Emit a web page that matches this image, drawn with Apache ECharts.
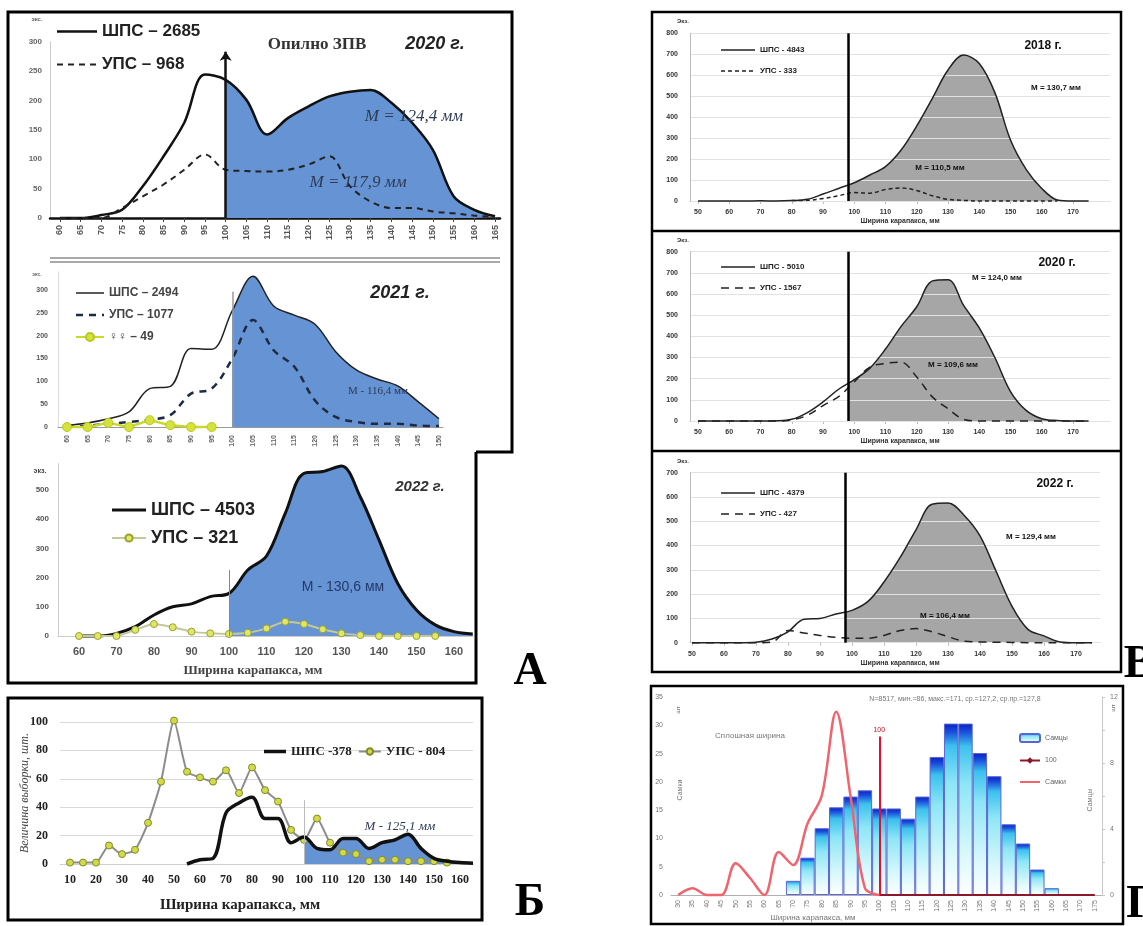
<!DOCTYPE html>
<html><head><meta charset="utf-8">
<script src="https://cdn.jsdelivr.net/npm/echarts@6/dist/echarts.min.js"></script>
<style>html,body{margin:0;padding:0;background:#fff}#c{width:1143px;height:926px}</style>
</head><body><div id="c"></div>
<script>
// ---------------- DATA ----------------
// Panel A, 2020
const a20X = [60,65,70,75,80,85,90,95,100,105,110,115,120,125,130,135,140,145,150,155,160,165];
const a20Shps = [0,0,5,14,54,105,162,244,235,201,142,170,190,207,215,218,196,162,116,37,14,3];
const a20Ups = [0,0,0,17,37,57,82,108,82,80,79,82,91,105,54,28,17,17,11,8,4,2];
// Panel A, 2021
const a21X = [60,65,70,75,80,85,90,95,100,105,110,115,120,125,130,135,140,145,150];
const a21Shps = [4,9,18,33,84,89,172,170,255,330,265,245,225,165,125,105,90,55,18];
const a21Ups = [0,3,7,11,16,26,73,84,150,234,168,132,58,22,11,7,7,3,2];
const a21FfX = [60,65,70,75,80,85,90,95];
const a21Ff = [0,0,9,0,15,4,0,0];
// Panel A, 2022
const a22X = [60,65,70,75,80,85,90,95,100,105,110,115,120,125,130,135,140,145,150,155,160,165];
const a22Shps = [0,0,9,32,72,100,110,135,146,226,274,420,557,563,582,477,329,180,89,38,15,7];
const a22UpsX = [60,65,70,75,80,85,90,95,100,105,110,115,120,125,130,135,140,145,150,155];
const a22Ups = [0,0,0,21,41,30,15,9,7,11,26,49,41,23,9,3,0,0,0,0];
const a22Ticks = [60,70,80,90,100,110,120,130,140,150,160];
// Panel Б
const bUpsX = [10,15,20,25,30,35,40,45,50,55,60,65,70,75,80,85,90,95,100,105,110,115,120,125,130,135,140,145,150,155];
const bUps = [1,1,1,13,7,10,29,58,101,65,61,58,66,50,68,52,44,24,17,32,15,8,7,2,3,3,2,2,2,1];
const bShpsX = [55,60,65,70,75,80,85,90,95,100,105,110,115,120,125,130,135,140,145,150,155,160,165];
const bShps = [0,3,4,36,43,47,32,32,15,19,11,10,18,18,11,15,17,21,11,4,2,1,0.5];
const bTicks = [10,20,30,40,50,60,70,80,90,100,110,120,130,140,150,160];
// Panel В
const vX = [50,55,60,65,70,75,80,85,90,95,100,105,110,115,120,125,130,135,140,145,150,155,160,165,170,175];
const vTicks = [50,60,70,80,90,100,110,120,130,140,150,160,170];
const v18Shps = [0,0,0,0,1,0,2,8,33,60,87,124,164,243,358,490,625,696,656,517,291,151,60,5,0,0];
const v18UpsX = [80,85,90,95,100,105,110,115,120,125,130,135,140,145,150,155,160,165];
const v18Ups = [2,3,12,25,40,37,55,62,50,25,8,3,0,0,0,0,0,0];
const v20Shps = [0,0,0,0,0,1,8,40,90,150,195,250,340,447,540,662,668,546,440,300,139,50,11,2,0,0];
const v20Ups = [0,0,0,0,0,0,5,27,73,115,185,255,272,278,208,114,58,8,0,0,0,0,0,0,0,0];
const v22Shps = [0,0,0,0,2,15,45,97,100,118,133,170,250,350,465,570,575,525,440,295,150,55,28,3,0,0];
const v22Ups = [0,0,0,0,0,3,50,40,30,22,18,18,30,50,58,45,25,6,3,2,1,0,0,0,0,0];
// Panel Г
const gCats = ['30','35','40','45','50','55','60','65','70','75','80','85','90','95','100','105','110','115','120','125','130','135','140','145','150','155','160','165','170','175'];
const gMales = [null,null,null,null,null,null,null,null,2.5,6.6,11.8,15.5,17.4,18.5,15.3,15.3,13.5,17.4,24.4,30.3,30.3,25.1,21,12.5,9.1,4.5,1.2,null,null,null];
const gFemales = [0,1.2,0,0,5.6,3,0,7.6,5.3,12.6,17.6,32.4,17.4,1.2,0,null,null,null,null,null,null,null,null,null,null,null,null,null,null,null];
const g100 = [null,null,null,null,null,null,null,null,null,null,null,null,null,null,0,0,0,0,0,0,0,0,0,0,0,0,0,0,0,0];

// ---------------- HELPERS ----------------
const FS = '"Liberation Sans", Arial, sans-serif';
const FSERIF = '"Liberation Serif", "Times New Roman", serif';
const BLUE = '#6593d3';
const GRAYFILL = '#a6a6a6';
const S = 0.35;
const pairs = (xs, ys) => xs.map((x, i) => [x, ys[i]]);
const grid = [], xAxis = [], yAxis = [], series = [], legend = [], visualMap = [], graphic = [];

// legend icons: a line of thickness t centred in a w x h box (solid or dashed)
function solidIcon(w, h, t) {
  return 'path://M0,0M' + w + ',' + h + 'M0,' + ((h - t) / 2) + 'H' + w + 'V' + ((h + t) / 2) + 'H0Z';
}
function dashIcon(w, h, t, d, g) {
  let p = 'path://M0,0M' + w + ',' + h;
  for (let x = 0; x < w; x += d + g) {
    const e = Math.min(x + d, w);
    p += 'M' + x + ',' + ((h - t) / 2) + 'H' + e + 'V' + ((h + t) / 2) + 'H' + x + 'Z';
  }
  return p;
}
function txt(text, x, y, font, fill, extra) {
  graphic.push(Object.assign({type: 'text', x: x, y: y, z: 100, silent: true,
    style: {text: text, font: font, fill: fill || '#222', align: 'center', verticalAlign: 'middle'}}, extra || {}));
}
function gline(x1, y1, x2, y2, w, c) {
  graphic.push({type: 'line', z: 100, silent: true, shape: {x1, y1, x2, y2}, style: {stroke: c || '#000', lineWidth: w}});
}
function addSeries(s) { series.push(s); return series.length - 1; }
function fillArea(gi, xs, ys, cut, color, smooth) {
  const idx = addSeries({type: 'line', xAxisIndex: gi, yAxisIndex: gi, data: pairs(xs, ys), smooth: smooth,
    symbol: 'none', lineStyle: {width: 0}, areaStyle: {opacity: 1}, z: 1, silent: true, clip: false});
  visualMap.push({type: 'piecewise', show: false, seriesIndex: idx, dimension: 0,
    pieces: [{gte: -1000, lt: cut, color: 'rgba(255,255,255,0)'}, {gte: cut, lte: 1000, color: color}]});
}
function vmark(x, top, color, width, arrow) {
  return {silent: true, symbol: ['none', arrow ? 'arrow' : 'none'], symbolSize: 9, label: {show: false},
    lineStyle: {color: color, width: width, type: 'solid'}, data: [[{coord: [x, 0]}, {coord: [x, top]}]]};
}

// ================= PANEL A 2020 (grid 0) =================
grid.push({left: 50, top: 41.7, width: 450, height: 176.3});
xAxis.push({gridIndex: 0, type: 'value', min: 57.6, max: 166.2,
  axisLine: {show: true, onZero: false, lineStyle: {color: '#111', width: 2.5}},
  axisTick: {show: true, customValues: a20X, length: 4, lineStyle: {color: '#444'}}, splitLine: {show: false},
  axisLabel: {customValues: a20X, rotate: 90, fontSize: 9, fontWeight: 'bold', color: '#555', margin: 7}});
yAxis.push({gridIndex: 0, type: 'value', min: 0, max: 300, interval: 50,
  axisLine: {show: true, lineStyle: {color: '#ccc'}}, axisTick: {show: false}, splitLine: {show: false},
  axisLabel: {fontSize: 8, fontWeight: 'bold', color: '#666', margin: 8}});
fillArea(0, a20X, a20Shps, 100, BLUE, S);
addSeries({type: 'line', name: 'ШПС – 2685', xAxisIndex: 0, yAxisIndex: 0, data: pairs(a20X, a20Shps), smooth: S,
  symbol: 'none', lineStyle: {color: '#111', width: 2.5}, itemStyle: {color: '#111'}, z: 3, clip: false,
  markLine: vmark(100, 283, '#111', 2.5, true)});
addSeries({type: 'line', name: 'УПС – 968', xAxisIndex: 0, yAxisIndex: 0, data: pairs(a20X, a20Ups), smooth: S,
  symbol: 'none', lineStyle: {color: '#222', width: 2, type: [6, 5]}, itemStyle: {color: '#222'}, z: 3, clip: false});
legend.push({left: 52, top: 18, orient: 'vertical', itemWidth: 40, itemHeight: 10, itemGap: 16,
  data: [{name: 'ШПС – 2685', icon: solidIcon(40, 10, 2.5)}, {name: 'УПС – 968', icon: dashIcon(40, 10, 2, 6, 5)}],
  textStyle: {fontSize: 17, fontWeight: 'bold', color: '#222', fontFamily: FS}});
txt('экс.', 37, 19, 'bold 6px ' + FS, '#666');
txt('Опилно ЗПВ', 317, 45, 'bold 17px ' + FSERIF, '#333');
txt('2020 г.', 435, 44, 'italic bold 18px ' + FS, '#222');
txt('M = 124,4 мм', 414, 117, 'italic 17px ' + FSERIF, '#2d3b55');
txt('M = 117,9 мм', 358, 183, 'italic 17px ' + FSERIF, '#2d3b55');
gline(50, 258, 500, 258, 1, '#555');
gline(50, 262, 500, 262, 1, '#555');

// ================= PANEL A 2021 (grid 1) =================
grid.push({left: 58, top: 271.7, width: 385, height: 155.3});
xAxis.push({gridIndex: 1, type: 'value', min: 57.82, max: 150.97,
  axisLine: {show: true, onZero: false, lineStyle: {color: '#999', width: 1}},
  axisTick: {show: false}, splitLine: {show: false},
  axisLabel: {customValues: a21X, rotate: 90, fontSize: 7, fontWeight: 'bold', color: '#666', margin: 8}});
yAxis.push({gridIndex: 1, type: 'value', min: 0, max: 340,
  axisLine: {show: true, lineStyle: {color: '#ddd'}}, axisTick: {show: false}, splitLine: {show: false},
  axisLabel: {customValues: [0, 50, 100, 150, 200, 250, 300], fontSize: 7, fontWeight: 'bold', color: '#555', margin: 10}});
fillArea(1, a21X, a21Shps, 100, BLUE, S);
addSeries({type: 'line', name: 'ШПС – 2494', xAxisIndex: 1, yAxisIndex: 1, data: pairs(a21X, a21Shps), smooth: S,
  symbol: 'none', lineStyle: {color: '#222', width: 1.5}, itemStyle: {color: '#222'}, z: 3, clip: false,
  markLine: vmark(100, 296, '#999', 1.5, false)});
addSeries({type: 'line', name: 'УПС – 1077', xAxisIndex: 1, yAxisIndex: 1, data: pairs(a21X, a21Ups), smooth: S,
  symbol: 'none', lineStyle: {color: '#1e2a44', width: 2.5, type: [7, 6]}, itemStyle: {color: '#1e2a44'}, z: 3, clip: false});
addSeries({type: 'line', name: '♀♀ – 49', xAxisIndex: 1, yAxisIndex: 1, data: pairs(a21FfX, a21Ff), smooth: false,
  symbol: 'circle', symbolSize: 9, lineStyle: {color: '#c9d92a', width: 2.5},
  itemStyle: {color: '#d6e23c', borderColor: '#b8c820', borderWidth: 1}, z: 4, clip: false});
legend.push({left: 70, top: 282, orient: 'vertical', itemWidth: 28, itemHeight: 10, itemGap: 10,
  data: [{name: 'ШПС – 2494', icon: solidIcon(28, 10, 1.5)}, {name: 'УПС – 1077', icon: dashIcon(28, 10, 2.5, 7, 6)}, '♀♀ – 49'],
  textStyle: {fontSize: 12, fontWeight: 'bold', color: '#444', fontFamily: FS}});
txt('экс.', 37, 275, 'bold 5px ' + FS, '#666');
txt('2021 г.', 400, 293, 'italic bold 18px ' + FS, '#222');
txt('М - 116,4 мм', 378, 391, '11px ' + FSERIF, '#2d3b55');

// ================= PANEL A 2022 (grid 2) =================
grid.push({left: 58, top: 463.7, width: 415, height: 172.3});
xAxis.push({gridIndex: 2, type: 'value', min: 54.4, max: 165.07,
  axisLine: {show: true, onZero: false, lineStyle: {color: '#ccc', width: 1}},
  axisTick: {show: false}, splitLine: {show: false},
  axisLabel: {customValues: a22Ticks, fontSize: 11, fontWeight: 'bold', color: '#555', margin: 10}});
yAxis.push({gridIndex: 2, type: 'value', min: 0, max: 590,
  axisLine: {show: true, lineStyle: {color: '#ccc'}}, axisTick: {show: false}, splitLine: {show: false},
  axisLabel: {customValues: [0, 100, 200, 300, 400, 500], fontSize: 8, fontWeight: 'bold', color: '#555', margin: 9}});
fillArea(2, a22X, a22Shps, 100, BLUE, S);
addSeries({type: 'line', name: 'ШПС – 4503', xAxisIndex: 2, yAxisIndex: 2, data: pairs(a22X, a22Shps), smooth: S,
  symbol: 'none', lineStyle: {color: '#111', width: 3}, itemStyle: {color: '#111'}, z: 3, clip: false,
  markLine: vmark(100, 226, '#888', 1, false)});
addSeries({type: 'line', name: 'УПС – 321', xAxisIndex: 2, yAxisIndex: 2, data: pairs(a22UpsX, a22Ups), smooth: 0.2,
  symbol: 'circle', symbolSize: 7, lineStyle: {color: '#c4c79a', width: 2},
  itemStyle: {color: '#dfe66a', borderColor: '#9aa22a', borderWidth: 1}, z: 4, clip: false});
legend.push({left: 106, top: 496, orient: 'vertical', itemWidth: 34, itemHeight: 9, itemGap: 10,
  data: [{name: 'ШПС – 4503', icon: solidIcon(34, 9, 3)}, 'УПС – 321'],
  textStyle: {fontSize: 18, fontWeight: 'bold', color: '#222', fontFamily: FS}});
txt('экз.', 40, 471, 'bold 7px ' + FS, '#444');
txt('2022 г.', 420, 487, 'italic bold 15px ' + FS, '#333');
txt('М - 130,6 мм', 343, 587, '14px ' + FS, '#243a6a');
txt('Ширина карапакса, мм', 253, 671, 'bold 13px ' + FSERIF, '#444');
txt('А', 530, 672, 'bold 46px ' + FSERIF, '#000');

// ================= PANEL Б (grid 3) =================
grid.push({left: 60, top: 722, width: 413, height: 142});
xAxis.push({gridIndex: 3, type: 'value', min: 6.15, max: 165,
  axisLine: {show: true, onZero: false, lineStyle: {color: '#d0d0d0', width: 1}},
  axisTick: {show: false}, splitLine: {show: false},
  axisLabel: {customValues: bTicks, fontSize: 12, fontWeight: 'bold', color: '#222', fontFamily: FSERIF, margin: 10}});
yAxis.push({gridIndex: 3, type: 'value', min: 0, max: 100, interval: 20,
  axisLine: {show: false}, axisTick: {show: false}, splitLine: {show: true, lineStyle: {color: '#d9d9d9'}},
  axisLabel: {fontSize: 12, fontWeight: 'bold', color: '#222', fontFamily: FSERIF, margin: 12}});
fillArea(3, bShpsX, bShps, 100, BLUE, S);
addSeries({type: 'line', name: 'УПС - 804', xAxisIndex: 3, yAxisIndex: 3, data: pairs(bUpsX, bUps), smooth: 0.2,
  symbol: 'circle', symbolSize: 7, lineStyle: {color: '#8c8c8c', width: 2},
  itemStyle: {color: '#d2da48', borderColor: '#7f8a2a', borderWidth: 1}, z: 3, clip: false});
addSeries({type: 'line', name: 'ШПС -378', xAxisIndex: 3, yAxisIndex: 3, data: pairs(bShpsX, bShps), smooth: S,
  symbol: 'none', lineStyle: {color: '#111', width: 3.5}, itemStyle: {color: '#111'}, z: 4, clip: false,
  markLine: vmark(100, 45, '#bbb', 1, false)});
legend.push({left: 259, top: 740, orient: 'horizontal', itemWidth: 22, itemHeight: 8, itemGap: 6,
  data: [{name: 'ШПС -378', icon: solidIcon(22, 8, 3.5)}, 'УПС - 804'],
  textStyle: {fontSize: 13, fontWeight: 'bold', color: '#222', fontFamily: FSERIF}});
txt('М - 125,1 мм', 400, 827, 'italic 13px ' + FSERIF, '#2d3b55');
txt('Величина выборки, шт.', 25, 793, 'italic 12px ' + FSERIF, '#444', {rotation: Math.PI / 2});
txt('Ширина карапакса, мм', 240, 905, 'bold 15px ' + FSERIF, '#222');
txt('Б', 530, 903, 'bold 46px ' + FSERIF, '#000');

// ================= PANEL В (grids 4,5,6) =================
function vPanel(gi, top, height, xmin, xmax, width, ymax, shps, upsX, ups, dash, names, legTop) {
  grid.push({left: 690, top: top, width: width, height: height});
  xAxis.push({gridIndex: gi, type: 'value', min: xmin, max: xmax,
    axisLine: {show: true, onZero: false, lineStyle: {color: '#bbb', width: 1}},
    axisTick: {show: true, customValues: vTicks, length: 3, lineStyle: {color: '#bbb'}}, splitLine: {show: false},
    axisLabel: {customValues: vTicks, fontSize: 7, fontWeight: 'bold', color: '#333', margin: 8}});
  yAxis.push({gridIndex: gi, type: 'value', min: 0, max: ymax, interval: 100, z: 2,
    axisLine: {show: true, lineStyle: {color: '#bbb'}}, axisTick: {show: false},
    splitLine: {show: true, lineStyle: {color: '#e2e2e2', width: 1}},
    axisLabel: {fontSize: 7, fontWeight: 'bold', color: '#333', margin: 12}});
  fillArea(gi, vX, shps, 98, GRAYFILL, S);
  addSeries({type: 'line', name: names[0], xAxisIndex: gi, yAxisIndex: gi, data: pairs(vX, shps), smooth: S,
    symbol: 'none', lineStyle: {color: '#222', width: 1.5}, itemStyle: {color: '#222'}, z: 3, clip: false,
    markLine: vmark(98, ymax, '#000', 2.5, false)});
  addSeries({type: 'line', name: names[1], xAxisIndex: gi, yAxisIndex: gi, data: pairs(upsX, ups), smooth: S,
    symbol: 'none', lineStyle: {color: '#222', width: 1.5, type: dash}, itemStyle: {color: '#222'}, z: 3, clip: false});
  legend.push({left: 716, top: legTop, orient: 'vertical', itemWidth: 34, itemHeight: 8, itemGap: 13,
    data: [{name: names[0], icon: solidIcon(34, 8, 1.5)}, {name: names[1], icon: dashIcon(34, 8, 1.5, dash[0], dash[1])}],
    textStyle: {fontSize: 8, fontWeight: 'bold', color: '#222', fontFamily: FS}});
}
vPanel(4, 33.3, 167.7, 47.44, 181.84, 420, 800, v18Shps, v18UpsX, v18Ups, [4, 3], ['ШПС - 4843', 'УПС - 333'], 41);
vPanel(5, 251.7, 169.3, 47.44, 181.84, 420, 800, v20Shps, vX, v20Ups, [8, 6], ['ШПС - 5010', 'УПС - 1567'], 258);
vPanel(6, 472.7, 170, 49.375, 177.5, 410, 700, v22Shps, vX, v22Ups, [8, 6], ['ШПС - 4379', 'УПС - 427'], 484);
txt('Экз.', 683, 21, 'bold 6px ' + FS, '#333');
txt('2018 г.', 1043, 46, 'bold 12px ' + FS, '#111');
txt('М = 130,7 мм', 1056, 88, 'bold 8px ' + FS, '#111');
txt('М = 110,5 мм', 940, 168, 'bold 8px ' + FS, '#111');
txt('Ширина карапакса, мм', 900, 221, 'bold 7px ' + FS, '#333');
txt('Экз.', 683, 240, 'bold 6px ' + FS, '#333');
txt('2020 г.', 1057, 263, 'bold 12px ' + FS, '#111');
txt('М = 124,0 мм', 997, 278, 'bold 8px ' + FS, '#111');
txt('М = 109,6 мм', 953, 365, 'bold 8px ' + FS, '#111');
txt('Ширина карапакса, мм', 900, 441, 'bold 7px ' + FS, '#333');
txt('Экз.', 683, 461, 'bold 6px ' + FS, '#333');
txt('2022 г.', 1055, 484, 'bold 12px ' + FS, '#111');
txt('М = 129,4 мм', 1031, 537, 'bold 8px ' + FS, '#111');
txt('М = 106,4 мм', 945, 616, 'bold 8px ' + FS, '#111');
txt('Ширина карапакса, мм', 900, 663, 'bold 7px ' + FS, '#333');
txt('В', 1139, 665, 'bold 46px ' + FSERIF, '#000');

// ================= PANEL Г (grid 7) =================
grid.push({left: 671, top: 697, width: 431, height: 198});
xAxis.push({gridIndex: 7, type: 'category', data: gCats, boundaryGap: true,
  axisLine: {show: true, lineStyle: {color: '#b0b0b0'}}, axisTick: {show: false},
  axisLabel: {interval: 0, rotate: 90, fontSize: 7, color: '#777', margin: 5}});
yAxis.push({gridIndex: 7, type: 'value', min: 0, max: 35, interval: 5,
  axisLine: {show: false}, axisTick: {show: false}, splitLine: {show: false},
  axisLabel: {fontSize: 7, color: '#777', margin: 8}});
yAxis.push({gridIndex: 7, type: 'value', position: 'right', min: 0, max: 12,
  axisLine: {show: true, lineStyle: {color: '#c8c8c8'}},
  axisTick: {show: true, customValues: [0, 2, 4, 6, 8, 10, 12], length: 3, lineStyle: {color: '#c8c8c8'}},
  splitLine: {show: false},
  axisLabel: {customValues: [0, 4, 8, 12], fontSize: 7, color: '#777', margin: 8}});
addSeries({type: 'bar', name: 'Самцы', xAxisIndex: 7, yAxisIndex: 7, data: gMales, barCategoryGap: '0%', z: 2,
  itemStyle: {borderColor: '#5a66d6', borderWidth: 1,
    color: {type: 'linear', x: 0, y: 0, x2: 0, y2: 1, colorStops: [
      {offset: 0, color: '#0a1fc0'}, {offset: 0.05, color: '#1a50dc'}, {offset: 0.13, color: '#3cc0ee'},
      {offset: 0.35, color: '#8ee6f6'}, {offset: 0.75, color: '#d8f8fc'}, {offset: 1, color: '#ffffff'}]}}});
addSeries({type: 'line', name: '100', xAxisIndex: 7, yAxisIndex: 7, data: g100, symbol: 'diamond', symbolSize: 6,
  showSymbol: false, lineStyle: {color: '#8a1a2a', width: 2}, itemStyle: {color: '#8a1a2a'}, z: 4,
  markLine: {silent: true, symbol: ['none', 'none'],
    label: {show: true, position: 'end', formatter: '100', fontSize: 7, color: '#c01020', distance: 3},
    lineStyle: {color: '#e0102e', width: 2, type: 'solid'}, data: [[{coord: ['100', 0]}, {coord: ['100', 28]}]]}});
addSeries({type: 'line', name: 'Самки', xAxisIndex: 7, yAxisIndex: 7, data: gFemales, smooth: S, symbol: 'none',
  lineStyle: {color: '#f0646e', width: 2.5}, itemStyle: {color: '#f0646e'}, z: 5, clip: false});
legend.push({left: 1014, top: 728, orient: 'vertical', itemWidth: 20, itemHeight: 8, itemGap: 14,
  data: ['Самцы', '100', {name: 'Самки', icon: solidIcon(20, 8, 2)}], textStyle: {fontSize: 7, color: '#666', fontFamily: FS}});
txt('N=8517, мин.=86, макс.=171, ср.=127,2, ср.пр.=127,8', 955, 699, '7px ' + FS, '#777');
txt('Сплошная ширина', 750, 736, '8px ' + FS, '#777');
txt('шт', 678, 710, '6px ' + FS, '#777', {rotation: Math.PI / 2});
txt('Самки', 680, 790, '7px ' + FS, '#777', {rotation: Math.PI / 2});
txt('шт', 1113, 708, '6px ' + FS, '#777', {rotation: Math.PI / 2});
txt('Самцы', 1090, 800, '7px ' + FS, '#777', {rotation: Math.PI / 2});
txt('Ширина карапакса, мм', 813, 918, '8px ' + FS, '#777');
txt('Г', 1141, 905, 'bold 46px ' + FSERIF, '#000');

// ================= BORDERS =================
graphic.push({type: 'polyline', z: 90, silent: true,
  shape: {points: [[476, 452], [476, 683], [8, 683], [8, 12], [512, 12], [512, 452], [476, 452]]},
  style: {stroke: '#000', lineWidth: 3, fill: null}});
graphic.push({type: 'rect', z: 90, silent: true, shape: {x: 8, y: 698, width: 474, height: 222},
  style: {stroke: '#000', lineWidth: 3, fill: null}});
graphic.push({type: 'rect', z: 90, silent: true, shape: {x: 652, y: 12, width: 469, height: 660},
  style: {stroke: '#000', lineWidth: 2.5, fill: null}});
gline(652, 231, 1121, 231, 2.5, '#000');
gline(652, 451, 1121, 451, 2.5, '#000');
graphic.push({type: 'rect', z: 90, silent: true, shape: {x: 651, y: 686, width: 472, height: 238},
  style: {stroke: '#000', lineWidth: 2.5, fill: null}});

const chart = echarts.init(document.getElementById('c'), null, {renderer: 'canvas'});
chart.setOption({animation: false, backgroundColor: '#fff', textStyle: {fontFamily: FS},
  grid, xAxis, yAxis, series, legend, visualMap, graphic});
</script></body></html>
